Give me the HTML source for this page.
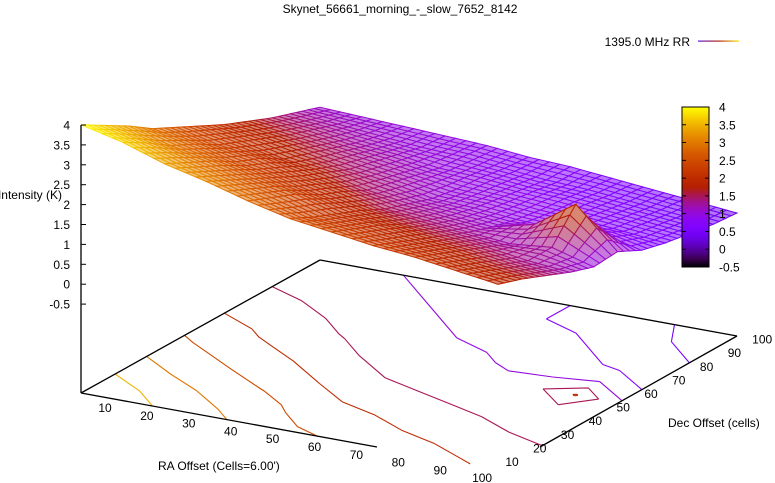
<!DOCTYPE html>
<html><head><meta charset="utf-8"><style>
html,body{margin:0;padding:0;background:#fff;}
svg{display:block;font-family:"Liberation Sans",sans-serif;}
</style></head><body>
<svg id="chart" width="775" height="483" viewBox="0 0 775 483" xmlns="http://www.w3.org/2000/svg">
<text x="400" y="13" font-size="12" text-anchor="middle">Skynet_56661_morning_-_slow_7652_8142</text>
<g>
<text x="690" y="46" font-size="12" text-anchor="end">1395.0 MHz RR</text>
<defs><linearGradient id="lg" x1="0" x2="1"><stop offset="0" stop-color="#6010e0"/><stop offset="0.5" stop-color="#b02010"/><stop offset="1" stop-color="#ffe000"/></linearGradient></defs>
<rect x="698" y="40.5" width="41" height="1.2" fill="url(#lg)"/>
</g>
<g id="contours"></g>
<g id="axes" stroke="#000" fill="none" stroke-width="1.3">
<line x1="81" y1="125" x2="81" y2="393"/>
<line x1="81" y1="393" x2="320" y2="260"/>
<line x1="320" y1="260" x2="737" y2="336"/>
<line x1="81" y1="393" x2="377" y2="447"/>
<line x1="540" y1="447" x2="737" y2="336"/>
</g>
<g id="surface"></g>
<g id="labels" font-size="12"></g>
<text x="62" y="199" font-size="12" text-anchor="end">Intensity (K)</text>
<text x="158" y="470" font-size="12">RA Offset (Cells=6.00')</text>
<text x="668" y="427" font-size="12">Dec Offset (cells)</text>
<g id="cbox"></g>
</svg>
<script>
const raTicks=[10,20,30,40,50,60,70,80,90,100];
const decTicks=[10,20,30,40,50,60,70,80,90,100];
const zTicks=[4,3.5,3,2.5,2,1.5,1,0.5,0,-0.5];
const cbTicks=[4,3.5,3,2.5,2,1.5,1,0.5,0,-0.5];
const contourLevels=[0.5,0.75,1,1.5,2,2.5,3,3.5];
// intensity grid: rows = Dec (0..100 step 10), columns = RA (0..100 step 10)
const row0=[4.0,3.75,3.4,3.15,2.85,2.6,2.45,2.3,2.2,2.05,1.9];
const row1=[3.65,3.4,3.1,2.85,2.6,2.3,2.2,2.05,1.95,1.8,1.7];
const row2=[3.3,3.0,2.8,2.55,2.35,2.05,1.95,1.8,1.7,1.55,1.45];
const row3=[2.9,2.7,2.45,2.25,2.0,1.8,1.65,1.55,1.45,1.3,1.2];
const row4=[2.6,2.35,2.2,1.95,1.75,1.5,1.4,1.3,1.2,1.3,1.0];
const row5=[2.3,2.1,1.85,1.7,1.45,1.3,1.2,1.1,1.35,2.05,1.05];
const row6=[2.0,1.85,1.65,1.45,1.3,1.1,1.05,0.95,0.9,1.0,0.75];
const row7=[1.75,1.6,1.45,1.3,1.15,1.0,0.95,0.85,0.8,0.7,0.6];
const row8=[1.5,1.4,1.25,1.15,1.0,0.95,0.85,0.8,0.7,0.6,0.5];
const row9=[1.3,1.2,1.1,1.0,0.95,0.85,0.75,0.7,0.6,0.5,0.4];
const row10=[1.1,1.05,1.0,0.95,0.9,0.8,0.75,0.65,0.55,0.45,0.35];
const grid=[row0,row1,row2,row3,row4,row5,row6,row7,row8,row9,row10];

const NS='http://www.w3.org/2000/svg';
const ZBASE=-2.74, ZSC=39.8;
function proj(ra,dec,z){const a=ra/100,b=dec/100;
  return [81+417*a+239*b, 393+76*a-133*b-(z-ZBASE)*ZSC];}
function palette(v){let x=(v+0.5)/4.5;x=Math.max(0,Math.min(1,x));
  const r=Math.sqrt(x),g=x*x*x,b=Math.max(0,Math.sin(2*Math.PI*x));
  return [r*255,g*255,b*255];}
function rgb(c){return 'rgb('+c.map(v=>Math.round(v)).join(',')+')';}
function mix(c,w){return c.map(v=>v+(255-v)*w);}
function el(t,attrs,parent){const e=document.createElementNS(NS,t);for(const k in attrs)e.setAttribute(k,attrs[k]);parent.appendChild(e);return e;}

const nR=grid.length,nC=grid[0].length,step=100/(nC-1),stepD=100/(nR-1);
// contours on base plane
const cg=document.getElementById('contours');
contourLevels.forEach(L=>{
  let d='';
  for(let j=0;j<nR-1;j++)for(let i=0;i<nC-1;i++){
    const v=[grid[j][i],grid[j][i+1],grid[j+1][i+1],grid[j+1][i]];
    const p=[[i*step,j*stepD],[(i+1)*step,j*stepD],[(i+1)*step,(j+1)*stepD],[i*step,(j+1)*stepD]];
    const pts=[];
    for(let k=0;k<4;k++){const a=v[k],b=v[(k+1)%4];
      if((a<L)!==(b<L)){const t=(L-a)/(b-a);const q=p[k],r=p[(k+1)%4];
        pts.push(proj(q[0]+(r[0]-q[0])*t,q[1]+(r[1]-q[1])*t,ZBASE));}}
    for(let k=0;k+1<pts.length;k+=2)d+='M'+pts[k][0].toFixed(1)+','+pts[k][1].toFixed(1)+'L'+pts[k+1][0].toFixed(1)+','+pts[k+1][1].toFixed(1);
  }
  const e=el('path',{d:d,fill:'none',stroke:rgb(palette(L)),'stroke-width':1.1},cg);
  
  
});
// surface: each data cell rendered as a finer wire mesh (bilinear within the cell)
const sg=document.getElementById('surface');
const S=4;
const quads=[];
for(let j=0;j<nR-1;j++)for(let i=0;i<nC-1;i++){
  const z00=grid[j][i],z10=grid[j][i+1],z01=grid[j+1][i],z11=grid[j+1][i+1];
  for(let v=0;v<S;v++)for(let u=0;u<S;u++){
    const corners=[[u,v],[u+1,v],[u+1,v+1],[u,v+1]].map(c=>{
      const s=c[0]/S,t=c[1]/S;
      const z=z00*(1-s)*(1-t)+z10*s*(1-t)+z01*(1-s)*t+z11*s*t;
      return [(i+s)*step,(j+t)*stepD,z];});
    const ca=(i+(u+0.5)/S)*step/100,cb=(j+(v+0.5)/S)*stepD/100;
    quads.push({c:corners,depth:76*ca-133*cb});
  }}
quads.sort((p,q)=>p.depth-q.depth);
quads.forEach(q=>{
  const pts=q.c.map(k=>proj(k[0],k[1],k[2]));
  const avg=(q.c[0][2]+q.c[1][2]+q.c[2][2]+q.c[3][2])/4;
  const col=palette(avg);
  const e=el('polygon',{points:pts.map(p=>p[0].toFixed(1)+','+p[1].toFixed(1)).join(' '),fill:rgb(mix(col,0.45)),stroke:rgb(col),'stroke-width':1},sg);
  
  
});
// labels
const lg=document.getElementById('labels');
zTicks.forEach(v=>{const y=125+(4-v)*ZSC;
  const t=el('text',{x:70,y:y+4.5,'text-anchor':'end'},lg);t.textContent=String(v);
  
  
  const l=el('line',{x1:81,y1:y,x2:86,y2:y,stroke:'#000'},lg);
  
  });
raTicks.forEach(v=>{const t=el('text',{x:105+(v-10)*4.19,y:412+(v-10)*0.78,'text-anchor':'middle'},lg);t.textContent=String(v);
  
  });
decTicks.forEach(v=>{const t=el('text',{x:512+(v-10)*2.78,y:466-(v-10)*1.36,'text-anchor':'middle'},lg);t.textContent=String(v);
  
  });
// color box
const cb=document.getElementById('cbox');
const defs=el('defs',{},cb);
const gr=el('linearGradient',{id:'cbg',x1:0,y1:1,x2:0,y2:0},defs);
for(let k=0;k<=20;k++){const v=-0.5+4.5*k/20;el('stop',{offset:k/20,'stop-color':rgb(palette(v))},gr);}
const r=el('rect',{x:682,y:107,width:27,height:160,fill:'url(#cbg)',stroke:'#000','stroke-width':1},cb);


cbTicks.forEach(v=>{const y=107+(4-v)*160/4.5;
  const t=el('text',{x:719,y:y+4.5,'font-size':12},cb);t.textContent=String(v);
  
  
  const l=el('path',{d:'M682,'+y+'h4M709,'+y+'h-4',stroke:'#000'},cb);
  
  });
</script>
</body></html>
